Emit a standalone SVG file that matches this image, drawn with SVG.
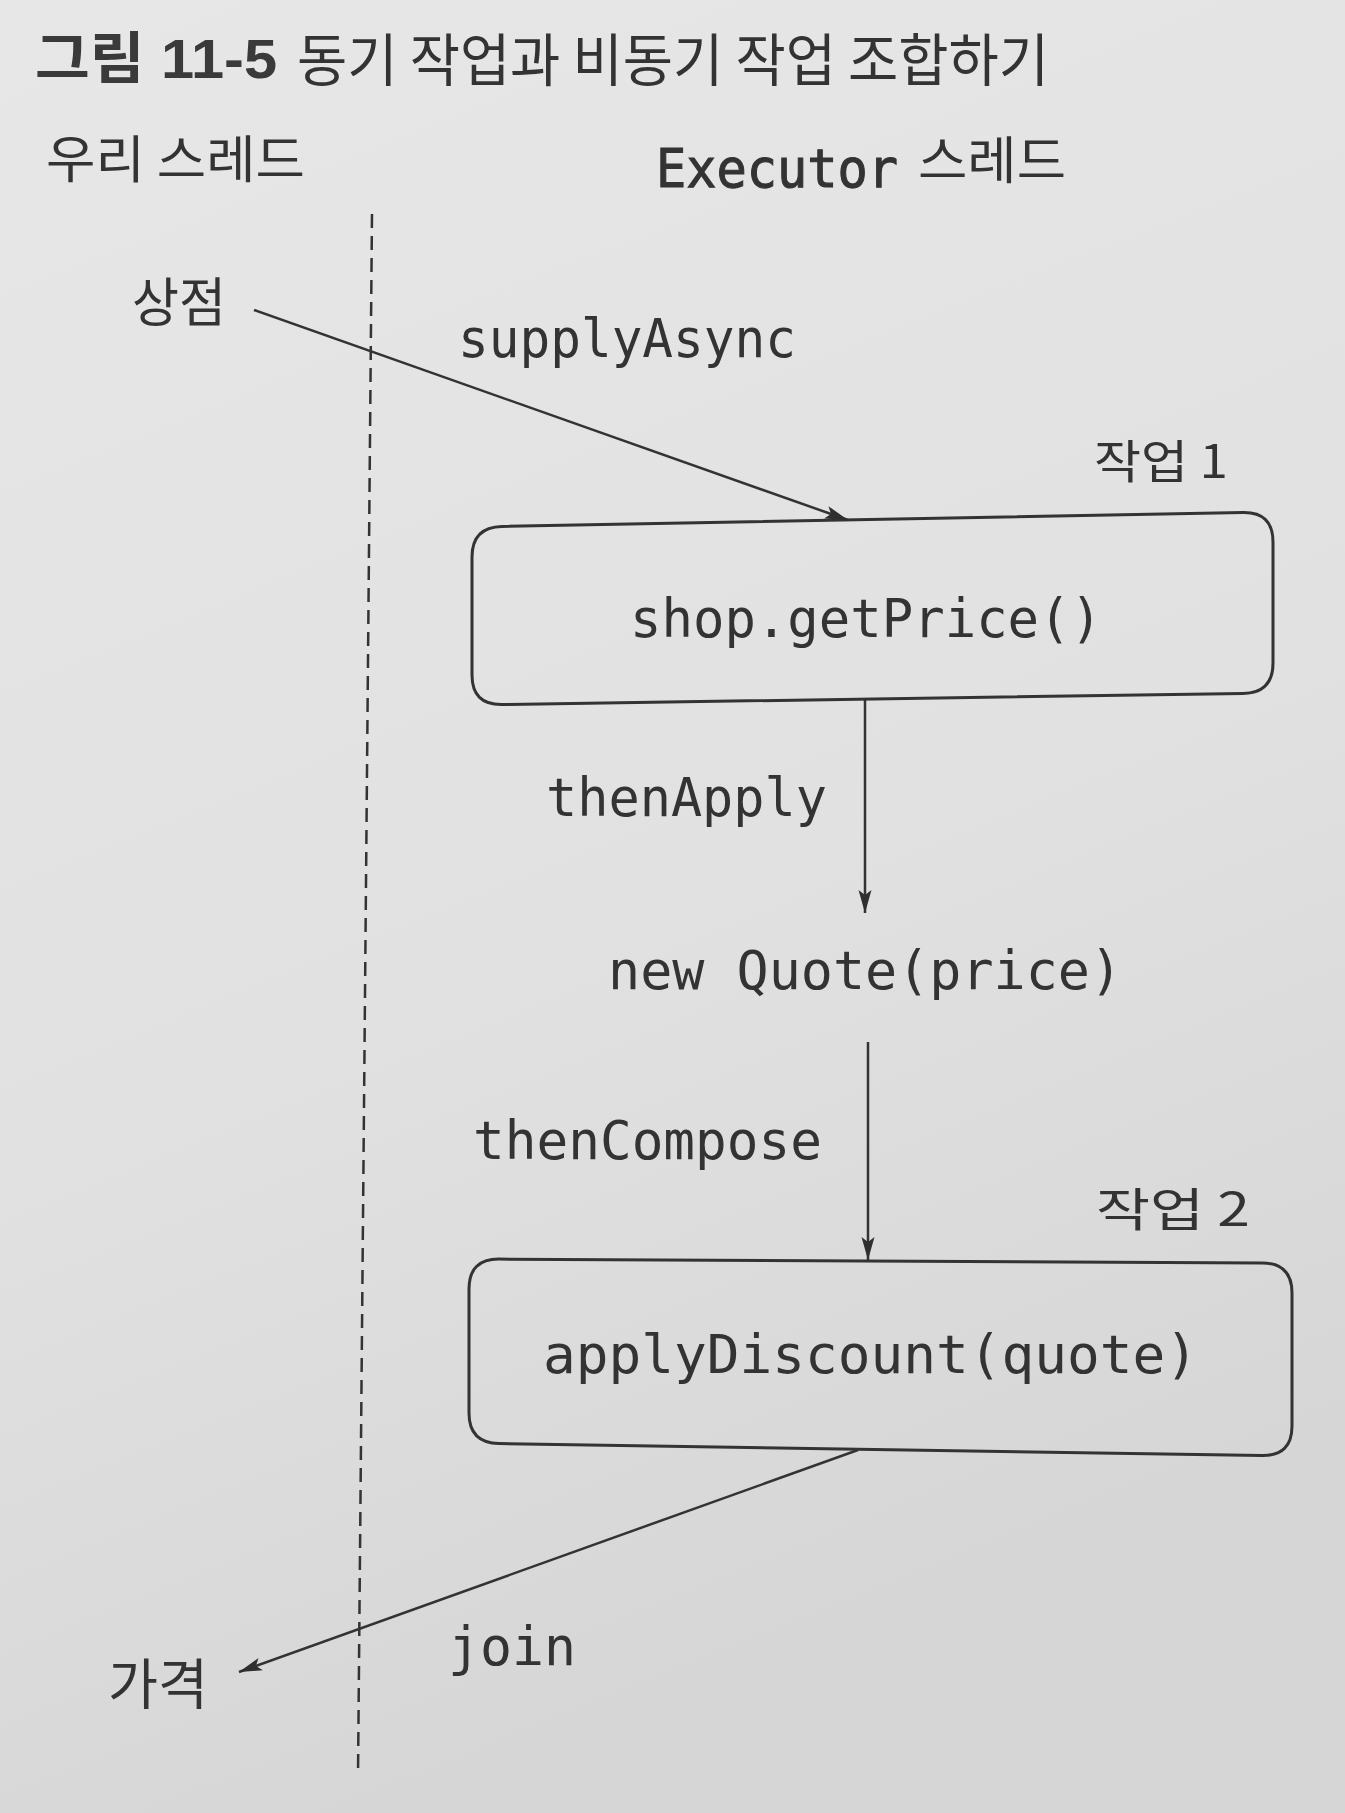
<svg xmlns="http://www.w3.org/2000/svg" width="1345" height="1813" viewBox="0 0 1345 1813">
  <defs>
    <linearGradient id="bg" x1="0" y1="0" x2="0.3" y2="1">
      <stop offset="0" stop-color="#e7e7e7"/>
      <stop offset="0.6" stop-color="#e1e1e1"/>
      <stop offset="1" stop-color="#d6d6d6"/>
    </linearGradient>
    <marker id="arrow" markerUnits="userSpaceOnUse" markerWidth="26" markerHeight="16" refX="23" refY="8" orient="auto">
      <path d="M0,1.5 L23,8 L0,14.5 L5,8 Z" fill="#2f2f2f"/>
    </marker>
    <style>
      .kr { font-family: "Noto Sans CJK KR", "Noto Sans", sans-serif; fill: #333; }
      .title { font-family: "Liberation Sans", "Noto Sans CJK KR", sans-serif; fill: #3a3a3a; }
      .mono { font-family: "DejaVu Sans Mono", "Liberation Mono", monospace; font-size: 54px; fill: #333; }
      .heavy { stroke: #333; stroke-width: 1.1; }
      .box { fill: none; stroke: #333; stroke-width: 3; }
      .conn { fill: none; stroke: #333; stroke-width: 2.5; }
      .lane { fill: none; stroke: #333; stroke-width: 2.5; stroke-dasharray: 14 8; }
    </style>
  </defs>
  <rect x="0" y="0" width="1345" height="1813" fill="url(#bg)"/>

  <g id="title">
    <text class="title" x="35" y="78" font-size="56" font-weight="bold" textLength="242" lengthAdjust="spacingAndGlyphs">그림 11-5</text>
    <text class="kr" x="297" y="81" font-size="57" textLength="752" lengthAdjust="spacingAndGlyphs">동기 작업과 비동기 작업 조합하기</text>
  </g>

  <g id="lane-headers">
    <text class="kr" x="46" y="178" font-size="51" textLength="259" lengthAdjust="spacingAndGlyphs">우리 스레드</text>
    <text class="mono heavy" x="656" y="187" textLength="242" lengthAdjust="spacingAndGlyphs">Executor</text>
    <text class="kr" x="918" y="179" font-size="51" textLength="148" lengthAdjust="spacingAndGlyphs">스레드</text>
  </g>

  <g id="lane-divider">
    <line class="lane" x1="372" y1="214" x2="358" y2="1776"/>
  </g>

  <g id="node-shop">
    <text class="kr" x="132" y="322" font-size="53" textLength="94" lengthAdjust="spacingAndGlyphs">상점</text>
  </g>

  <g id="node-task1">
    <text class="kr" x="1094" y="478" font-size="46" textLength="134" lengthAdjust="spacingAndGlyphs">작업 1</text>
    <path class="box" d="M502,526.4 L1243,512.6 Q1273,512 1273,542 L1273,663 Q1273,693 1243,693.5 L502,704.5 Q472,705 472,675 L472,557 Q472,527 502,526.4 Z"/>
    <text class="mono" x="630" y="637" textLength="472" lengthAdjust="spacingAndGlyphs">shop.getPrice()</text>
  </g>

  <g id="node-quote">
    <text class="mono" x="608" y="989" textLength="514" lengthAdjust="spacingAndGlyphs">new Quote(price)</text>
  </g>

  <g id="node-task2">
    <text class="kr" x="1096" y="1226" font-size="46" textLength="154" lengthAdjust="spacingAndGlyphs">작업 2</text>
    <path class="box" d="M499,1259.1 L1262,1262.9 Q1292,1263 1292,1293 L1292,1426 Q1292,1456 1262,1455.5 L499,1443.5 Q469,1443 469,1413 L469,1289 Q469,1259 499,1259.1 Z"/>
    <text class="mono" x="543" y="1373" textLength="655" lengthAdjust="spacingAndGlyphs">applyDiscount(quote)</text>
  </g>

  <g id="node-price">
    <text class="kr" x="108" y="1704" font-size="55" textLength="100" lengthAdjust="spacingAndGlyphs">가격</text>
  </g>

  <g id="connectors">
    <line class="conn" x1="254" y1="310" x2="848" y2="520" marker-end="url(#arrow)"/>
    <text class="mono" x="458" y="357" textLength="338" lengthAdjust="spacingAndGlyphs">supplyAsync</text>

    <line class="conn" x1="865" y1="699" x2="865" y2="913" marker-end="url(#arrow)"/>
    <text class="mono" x="546" y="816" textLength="281" lengthAdjust="spacingAndGlyphs">thenApply</text>

    <line class="conn" x1="868" y1="1042" x2="868" y2="1260" marker-end="url(#arrow)"/>
    <text class="mono" x="473" y="1159" textLength="349" lengthAdjust="spacingAndGlyphs">thenCompose</text>

    <line class="conn" x1="858" y1="1450" x2="239" y2="1672" marker-end="url(#arrow)"/>
    <text class="mono" x="448" y="1665" textLength="128" lengthAdjust="spacingAndGlyphs">join</text>
  </g>
</svg>
